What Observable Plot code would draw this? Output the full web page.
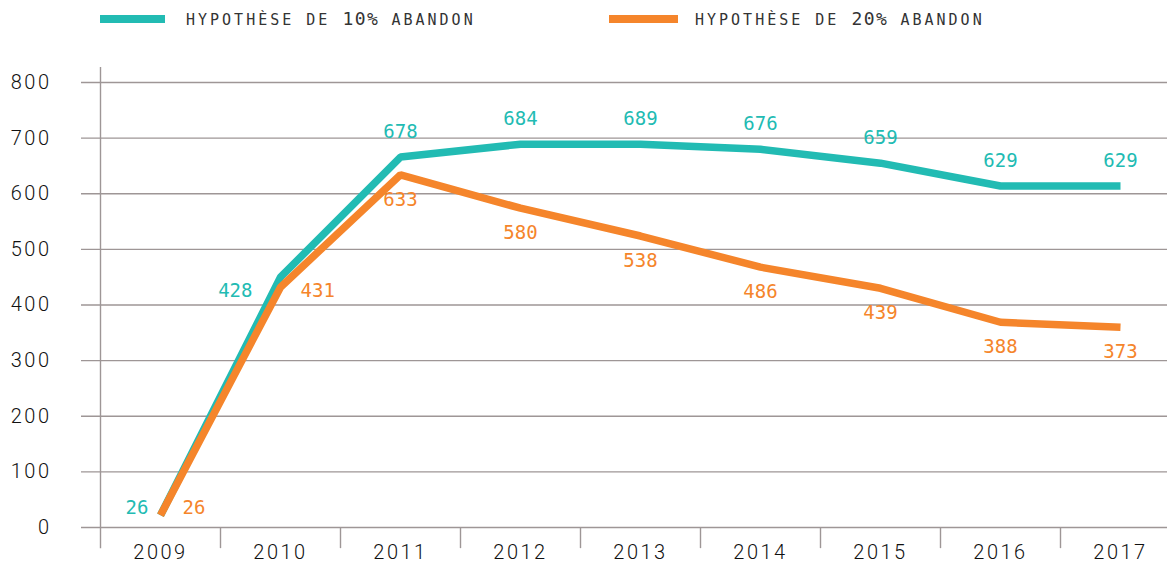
<!DOCTYPE html>
<html>
<head>
<meta charset="utf-8">
<script src="https://cdn.jsdelivr.net/npm/d3@7"></script>
<script src="https://cdn.jsdelivr.net/npm/@observablehq/plot@0.6"></script>
<style>
  html, body { margin: 0; padding: 0; background: #fff; }
  #wrap { position: relative; width: 1167px; height: 564px; overflow: hidden; }
  #legend { position: relative; width: 1167px; height: 40px; font-family: "DejaVu Sans Mono", monospace; color: #333; }
  .sw { position: absolute; top: 15px; height: 8px; }
  .lab { position: absolute; top: 8px; font-size: 15px; letter-spacing: 3px; white-space: nowrap; line-height: 22px; }
  .lab .big { font-size: 18px; letter-spacing: 1.5px; }
  #chart g[aria-label="y-axis tick label"] text { letter-spacing: 2.5px; }
  #chart g[aria-label="x-axis tick label"] text { letter-spacing: 2.5px; }
</style>
</head>
<body>
<div id="wrap">
  <div id="legend"></div>
  <div id="chart"></div>
</div>
<script>
// ---- data ----
const years = [2009, 2010, 2011, 2012, 2013, 2014, 2015, 2016, 2017];
// line positions as drawn in the chart
const values10 = [22, 450, 666, 689, 689, 680, 655, 614, 614];
const values20 = [22, 432, 634, 574, 524, 468, 430, 369, 360];
// printed labels
const labels10 = [26, 428, 678, 684, 689, 676, 659, 629, 629];
const labels20 = [26, 431, 633, 580, 538, 486, 439, 388, 373];
const yTicks = [0, 100, 200, 300, 400, 500, 600, 700, 800];
const seriesNames = ["HYPOTHÈSE DE 10% ABANDON", "HYPOTHÈSE DE 20% ABANDON"];
const seriesColors = ["#22bbb3", "#f5852b"];

// ---- legend ----
const legend = document.getElementById("legend");
const legendPos = [{sw: 100, swW: 65, tx: 186}, {sw: 609, swW: 69, tx: 695}];
seriesNames.forEach((name, i) => {
  const p = legendPos[i];
  const sw = document.createElement("div");
  sw.className = "sw";
  sw.style.left = p.sw + "px";
  sw.style.width = p.swW + "px";
  sw.style.background = seriesColors[i];
  legend.appendChild(sw);
  const lab = document.createElement("div");
  lab.className = "lab";
  lab.style.left = p.tx + "px";
  lab.innerHTML = name.replace(/(\d+%)/, '<span class="big">$1</span>');
  legend.appendChild(lab);
});

// ---- tables ----
const d10 = years.map((y, i) => ({year: y, value: values10[i], label: labels10[i]}));
const d20 = years.map((y, i) => ({year: y, value: values20[i], label: labels20[i]}));
const seps = years.slice(0, -1).map(y => y + 0.5);
const first = years[0], second = years[1];

const lf = {fontFamily: "DejaVu Sans Mono, monospace", fontSize: 19, fontWeight: 400};

const chart = Plot.plot({
  width: 1167,
  height: 524,
  marginTop: 42,
  marginBottom: 37,
  marginLeft: 81,
  marginRight: 0,
  style: {fontFamily: "Roboto, sans-serif", fontSize: "20px", fontWeight: 300, color: "#333", background: "#fff", overflow: "visible"},
  x: {type: "linear", domain: [first - 0.5, years[years.length - 1] + 0.5], range: [100, 1180]},
  y: {domain: [0, 800]},
  marks: [
    Plot.ruleY(yTicks, {stroke: "#9e9696", strokeWidth: 1.4}),
    Plot.ruleX([first - 0.5], {y1: 827, y2: -38, stroke: "#9e9696", strokeWidth: 1.4}),
    Plot.ruleX(seps, {y1: 0, y2: -38, stroke: "#9e9696", strokeWidth: 1.4}),
    Plot.axisY({ticks: yTicks, tickSize: 0, tickPadding: 30, label: null, fill: "#111"}),
    Plot.axisX({ticks: years, tickSize: 0, tickPadding: 17, label: null, tickFormat: d => String(d), fill: "#111"}),
    Plot.line(d10, {x: "year", y: "value", stroke: seriesColors[0], strokeWidth: 7.5, strokeLinejoin: "miter", strokeLinecap: "butt"}),
    Plot.line(d20, {x: "year", y: "value", stroke: seriesColors[1], strokeWidth: 7.5, strokeLinejoin: "miter", strokeLinecap: "butt"}),
    // 10% labels
    Plot.text(d10.filter(d => d.year === first), {x: "year", y: "value", text: "label", fill: seriesColors[0], textAnchor: "end", dx: -12, dy: -7, ...lf}),
    Plot.text(d10.filter(d => d.year === second), {x: "year", y: "value", text: "label", fill: seriesColors[0], textAnchor: "end", dx: -28, dy: 14, ...lf}),
    Plot.text(d10.filter(d => d.year > second), {x: "year", y: "value", text: "label", fill: seriesColors[0], dy: -25, ...lf}),
    // 20% labels
    Plot.text(d20.filter(d => d.year === first), {x: "year", y: "value", text: "label", fill: seriesColors[1], textAnchor: "start", dx: 22, dy: -7, ...lf}),
    Plot.text(d20.filter(d => d.year === second), {x: "year", y: "value", text: "label", fill: seriesColors[1], textAnchor: "start", dx: 20, dy: 4, ...lf}),
    Plot.text(d20.filter(d => d.year > second), {x: "year", y: "value", text: "label", fill: seriesColors[1], dy: 25, ...lf})
  ]
});
document.getElementById("chart").appendChild(chart);
</script>
</body>
</html>
